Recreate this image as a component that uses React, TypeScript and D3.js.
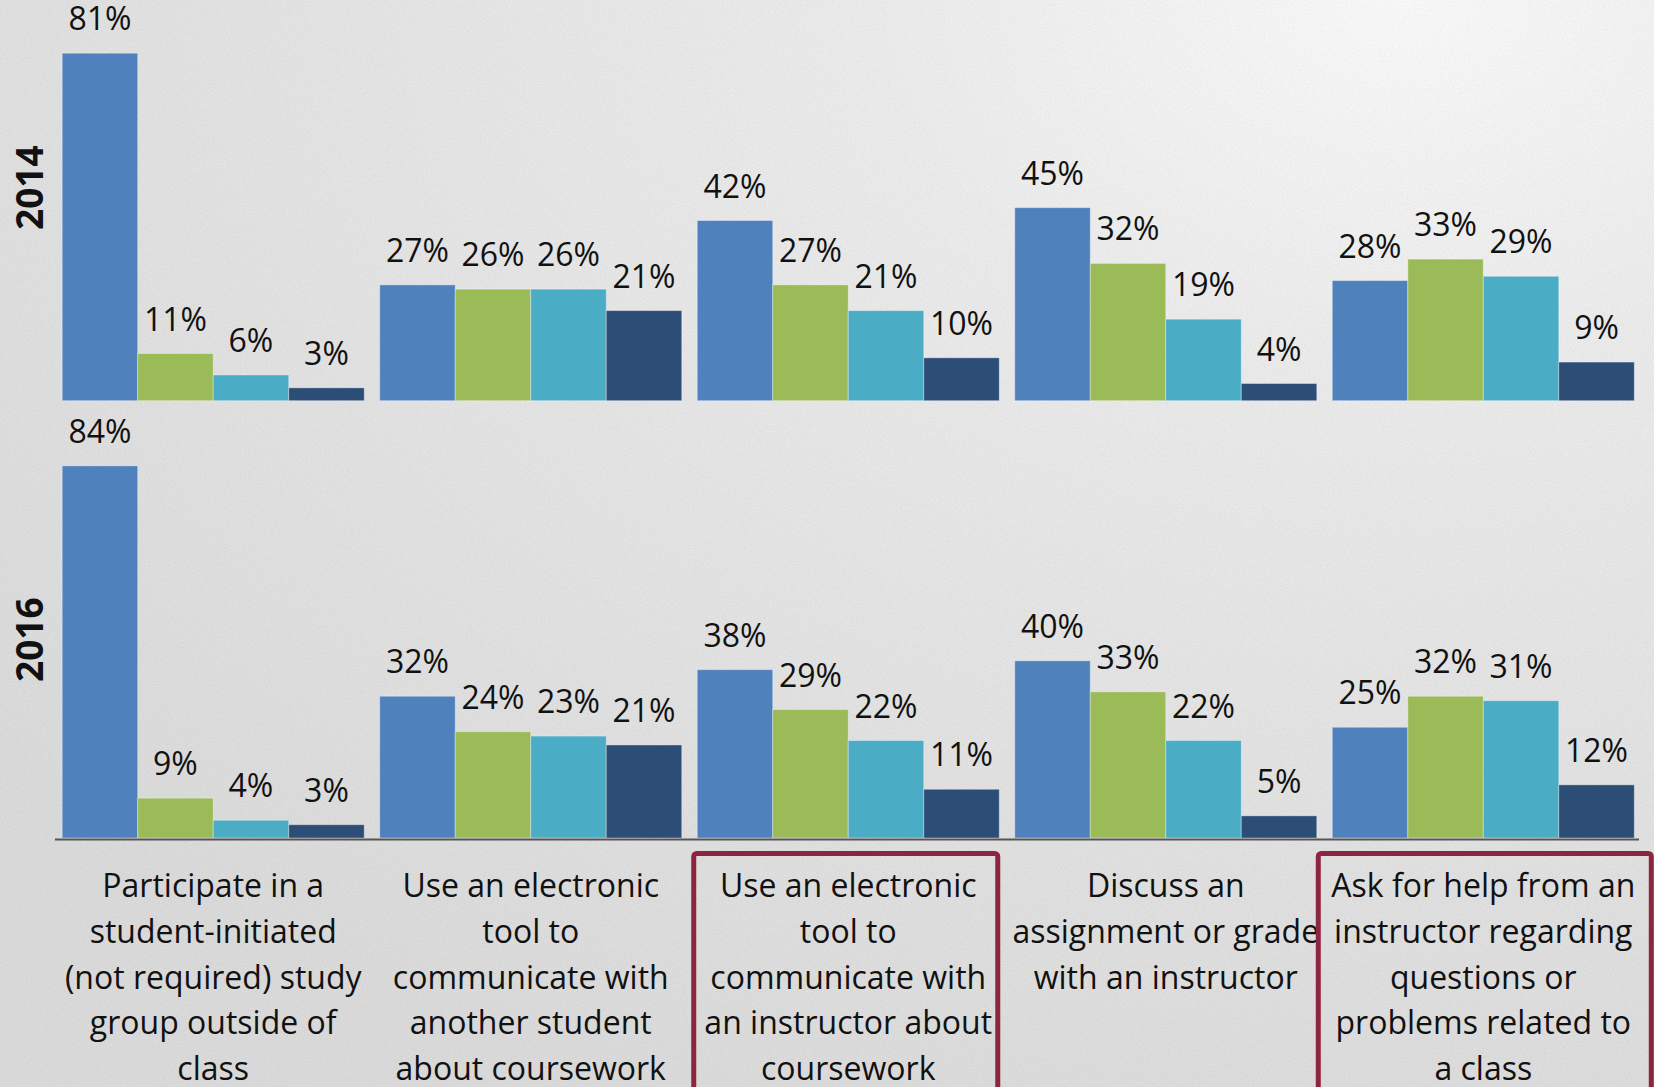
import * as d3 from 'd3';

const W = 1654, H = 1087;

const CATEGORIES = [
  ['Participate in a', 'student-initiated', '(not required) study', 'group outside of', 'class'],
  ['Use an electronic', 'tool to', 'communicate with', 'another student', 'about coursework'],
  ['Use an electronic', 'tool to', 'communicate with', 'an instructor about', 'coursework'],
  ['Discuss an', 'assignment or grade', 'with an instructor'],
  ['Ask for help from an', 'instructor regarding', 'questions or', 'problems related to', 'a class'],
];
const SERIES_KEYS = ['s1', 's2', 's3', 's4'];
const COLORS = ['#4F81BD', '#9BBB59', '#4BACC6', '#2C4D75'];

// values per category, four series each
const VALUES_2014 = [
  [81, 11, 6, 3],
  [27, 26, 26, 21],
  [42, 27, 21, 10],
  [45, 32, 19, 4],
  [28, 33, 29, 9],
];
const VALUES_2016 = [
  [84, 9, 4, 3],
  [32, 24, 23, 21],
  [38, 29, 22, 11],
  [40, 33, 22, 5],
  [25, 32, 31, 12],
];
const HIGHLIGHTED = [2, 4];

const FONT = "'Open Sans', 'Noto Sans', sans-serif";

const x0 = d3.scaleBand<number>()
  .domain(CATEGORIES.map((_, i) => i))
  .range([62.2, 1634.3])
  .paddingInner(0.0488);
const x1 = d3.scaleBand<string>().domain(SERIES_KEYS).range([0, x0.bandwidth()]);

const y2014 = d3.scaleLinear().domain([0, 90]).range([400.7, 400.7 - 90 * 4.29]);
const y2016 = d3.scaleLinear().domain([0, 90]).range([838, 838 - 90 * 4.43]);

function Panel({ values, y }: { values: number[][]; y: d3.ScaleLinear<number, number> }) {
  const base = y(0);
  return (
    <g>
      {values.map((row, ci) => (
        <g key={ci} transform={`translate(${x0(ci)},0)`}>
          {row.map((v, si) => {
            const bx = x1(SERIES_KEYS[si])!;
            return (
              <g key={si}>
                <rect x={bx} y={y(v)} width={x1.bandwidth()} height={base - y(v)}
                  fill={COLORS[si]} stroke="rgba(255,255,255,0.35)" strokeWidth={1} />
                <text x={bx + x1.bandwidth() / 2} y={y(v) - 23} textAnchor="middle"
                  fontSize={32} fill="#111">{v}%</text>
              </g>
            );
          })}
        </g>
      ))}
    </g>
  );
}

export default function App() {
  const lineH = 45.8;
  const firstBase = 897;
  return (
    <svg width={W} height={H} viewBox={`0 0 ${W} ${H}`}
      style={{ position: 'absolute', left: 0, top: 0, display: 'block' }}
      fontFamily={FONT}>
      <defs>
        <radialGradient id="bg" cx="0.85" cy="0" r="1.1">
          <stop offset="0" stopColor="#FFFFFF" />
          <stop offset="0.3" stopColor="#F1F1F1" />
          <stop offset="0.7" stopColor="#E7E7E7" />
          <stop offset="1" stopColor="#E0E0E0" />
        </radialGradient>
        <filter id="paper" x="0" y="0" width="100%" height="100%">
          <feTurbulence type="fractalNoise" baseFrequency="0.7" numOctaves={2} seed={3} result="n" />
          <feColorMatrix type="matrix" values="0 0 0 0 0  0 0 0 0 0  0 0 0 0 0  0 0 0 0.07 0" />
        </filter>
      </defs>
      <rect width={W} height={H} fill="url(#bg)" />
      <rect width={W} height={H} filter="url(#paper)" />

      <Panel values={VALUES_2014} y={y2014} />
      <Panel values={VALUES_2016} y={y2016} />

      <line x1={55} x2={1639} y1={839.5} y2={839.5} stroke="#555" strokeWidth={2} />

      <text transform={`translate(43,${(y2014(0) + y2014(90)) / 2 - 20}) rotate(-90)`} textAnchor="middle"
        fontSize={37} fontWeight={700} fill="#111">2014</text>
      <text transform={`translate(43,${(y2016(0) + y2016(90)) / 2 + 1}) rotate(-90)`} textAnchor="middle"
        fontSize={37} fontWeight={700} fill="#111">2016</text>

      {CATEGORIES.map((lines, ci) => (
        <text key={ci} x={x0(ci)! + x0.bandwidth() / 2} textAnchor="middle" fontSize={32} fill="#111">
          {lines.map((l, li) => (
            <tspan key={li} x={x0(ci)! + x0.bandwidth() / 2} y={firstBase + li * lineH}>{l}</tspan>
          ))}
        </text>
      ))}

      {HIGHLIGHTED.map(ci => {
        const left = x0(ci)! - (ci === 4 ? 14 : 3.5);
        const right = x0(ci)! + x0.bandwidth() + (ci === 4 ? 17 : -1.5);
        return (
          <rect key={ci} x={left} y={853.5} width={right - left} height={300} rx={3}
            fill="none" stroke="#8E2540" strokeWidth={5} />
        );
      })}
    </svg>
  );
}
